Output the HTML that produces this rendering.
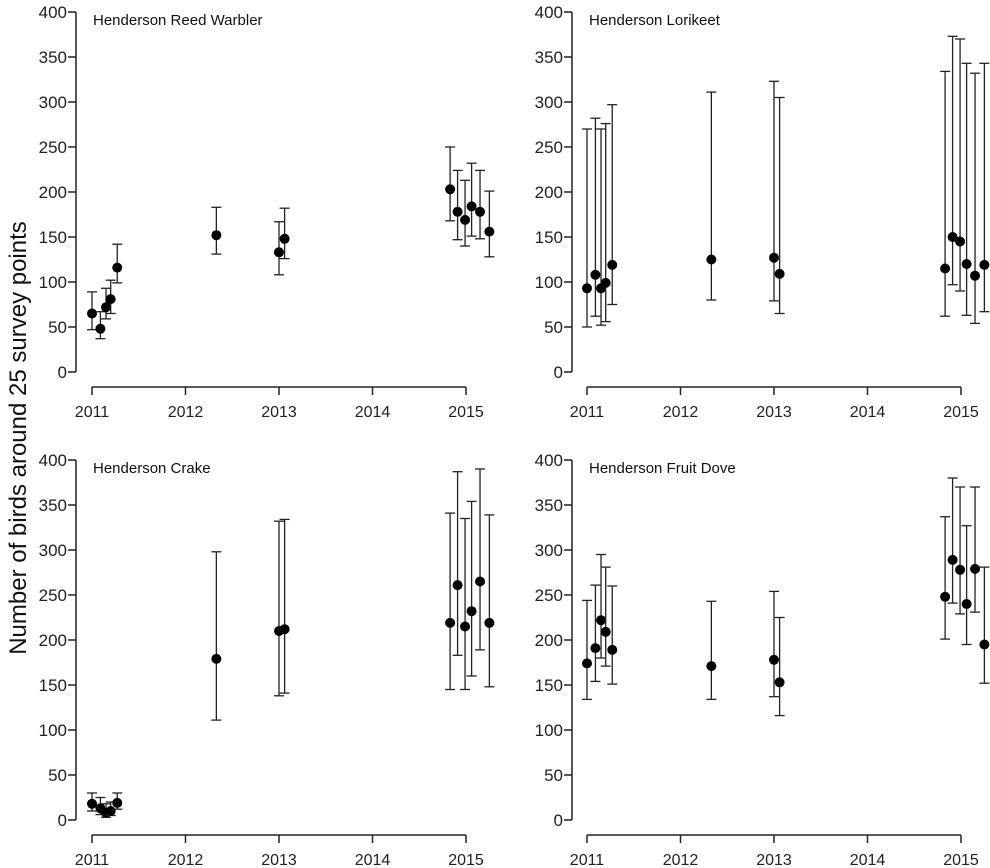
<!DOCTYPE html>
<html><head><meta charset="utf-8"><style>
body{margin:0;background:#fff}
svg{display:block;font-family:"Liberation Sans",Arial,sans-serif}
</style></head><body>
<svg id="c" width="990" height="868"></svg>
<script>
const years = [2011.0,2011.09,2011.15,2011.2,2011.27,2012.33,2013.0,2013.06,2014.83,2014.91,2014.99,2015.06,2015.15,2015.25];
const xTicks = [2011,2012,2013,2014,2015];
const yTicks = [0,50,100,150,200,250,300,350,400];
const titles = ["Henderson Reed Warbler","Henderson Lorikeet","Henderson Crake","Henderson Fruit Dove"];
const warblerMean = [65,48,72,81,116,152,133,148,203,178,169,184,178,156];
const warblerLow  = [47,37,59,65,99,131,108,126,168,147,140,151,148,128];
const warblerHigh = [89,67,93,102,142,183,167,182,250,224,213,232,224,201];
const lorikeetMean = [93,108,93,99,119,125,127,109,115,150,145,120,107,119];
const lorikeetLow  = [50,62,52,56,75,80,79,65,62,97,90,63,54,67];
const lorikeetHigh = [270,282,270,276,297,311,323,305,334,373,370,343,332,343];
const crakeMean = [18,13,8,10,19,179,210,212,219,261,215,232,265,219];
const crakeLow  = [10,6,3,5,12,111,138,141,145,183,145,160,189,148];
const crakeHigh = [30,25,18,20,30,298,332,334,341,387,335,354,390,339];
const doveMean = [174,191,222,209,189,171,178,153,248,289,278,240,279,195];
const doveLow  = [134,154,180,171,151,134,137,116,201,241,229,195,231,152];
const doveHigh = [244,261,295,281,260,243,254,225,337,380,370,327,370,281];

const series=[[warblerMean,warblerLow,warblerHigh],[lorikeetMean,lorikeetLow,lorikeetHigh],[crakeMean,crakeLow,crakeHigh],[doveMean,doveLow,doveHigh]];
const panels=[{ax:76,x0:92,y0:372,xa:387},{ax:572,x0:587,y0:372,xa:387},{ax:76,x0:92,y0:820,xa:835},{ax:572,x0:587,y0:820,xa:835}];
const svg=document.getElementById('c');
const NS='http://www.w3.org/2000/svg';
function mk(t,a,p){const e=document.createElementNS(NS,t);for(const k in a)e.setAttribute(k,a[k]);(p||svg).appendChild(e);return e;}
const stroke='#222';
panels.forEach((p,i)=>{
  const g=mk('g',{});
  
  
  const X=v=>p.x0+(v-2011)*93.5;
  const Y=v=>p.y0-v*0.9;
  mk('line',{x1:p.ax,x2:p.ax,y1:Y(0),y2:Y(400),stroke:stroke,'stroke-width':1.5},g);
  yTicks.forEach(t=>{
    mk('line',{x1:p.ax-8,x2:p.ax,y1:Y(t),y2:Y(t),stroke:stroke,'stroke-width':1.5},g);
    const tx=mk('text',{x:p.ax-9,y:Y(t)+6,'text-anchor':'end','font-size':17,fill:'#222'},g);
    tx.textContent=t;
    
    
  });
  mk('line',{x1:X(2011),x2:X(2015),y1:p.xa,y2:p.xa,stroke:stroke,'stroke-width':1.5},g);
  xTicks.forEach(t=>{
    mk('line',{x1:X(t),x2:X(t),y1:p.xa,y2:p.xa+8,stroke:stroke,'stroke-width':1.5},g);
    const tx=mk('text',{x:X(t),y:p.xa+30,'text-anchor':'middle','font-size':16,fill:'#222'},g);
    tx.textContent=t;
    
    
  });
  const ti=mk('text',{x:p.ax+17,y:Y(400)+13,'font-size':15,fill:'#111'},g);
  ti.textContent=titles[i];
  
  
  const [m,lo,hi]=series[i];
  years.forEach((yr,j)=>{
    const x=X(yr);
    const eb=mk('g',{},g);
    
    
    mk('line',{x1:x,x2:x,y1:Y(lo[j]),y2:Y(hi[j]),stroke:stroke,'stroke-width':1.3},eb);
    mk('line',{x1:x-5,x2:x+5,y1:Y(lo[j]),y2:Y(lo[j]),stroke:stroke,'stroke-width':1.3},eb);
    mk('line',{x1:x-5,x2:x+5,y1:Y(hi[j]),y2:Y(hi[j]),stroke:stroke,'stroke-width':1.3},eb);
    const c=mk('circle',{cx:x,cy:Y(m[j]),r:5,fill:'#000'},g);
    
    
  });
});
const yl=mk('text',{x:0,y:0,transform:'translate(26,438) rotate(-90)','text-anchor':'middle','font-size':24,fill:'#111'});
yl.textContent='Number of birds around 25 survey points';


</script>
</body></html>
